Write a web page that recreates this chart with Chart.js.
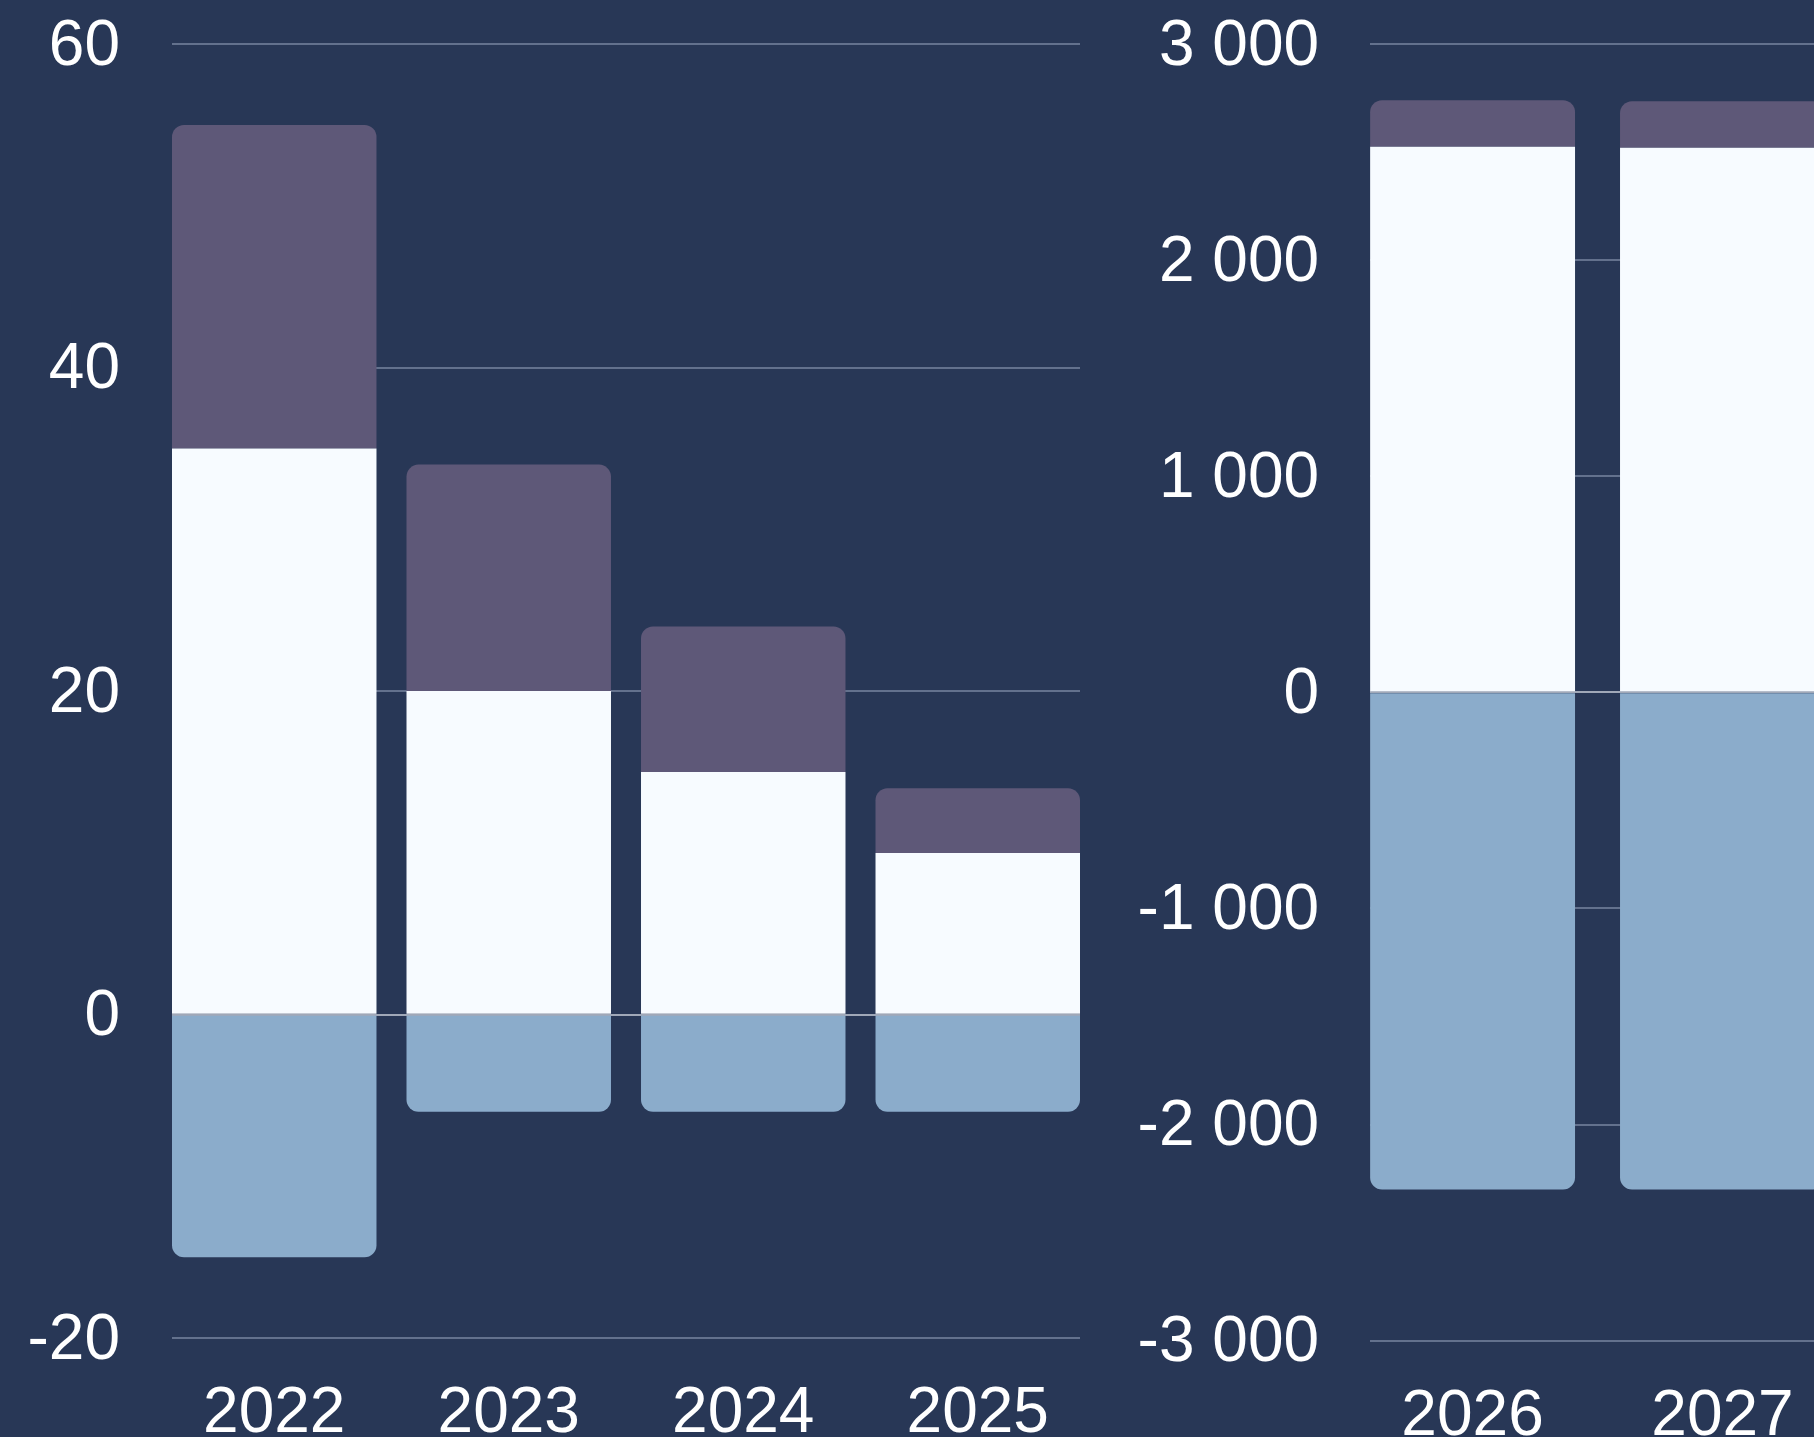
<!DOCTYPE html>
<html>
<head>
<meta charset="utf-8">
<script src="https://cdn.jsdelivr.net/npm/chart.js@4.4.1/dist/chart.umd.min.js"></script>
<style>
    html, body { margin: 0; padding: 0; background: #283756; width: 1814px; height: 1437px; overflow: hidden; }
    #leftBox { position: absolute; left: 0; top: 0; width: 1100px; height: 1500px; }
    #rightBox { position: absolute; left: 1100px; top: 0; width: 740px; height: 1500px; }
</style>
</head>
<body>
<div id="leftBox"><canvas id="leftChart"></canvas></div>
<div id="rightBox"><canvas id="rightChart"></canvas></div>
<script>
// left panel
const leftYears = [2022, 2023, 2024, 2025];
const leftBase = [35, 20, 15, 10];
const leftTop = [20, 14, 9, 4];
const leftNegative = [-15, -6, -6, -6];
const leftTicks = [-20, 0, 20, 40, 60];

// right panel
const rightYears = [2026, 2027];
const rightBase = [2525, 2520];
const rightTop = [215, 215];
const rightNegative = [-2300, -2300];
const rightTicks = [-3000, -2000, -1000, 0, 1000, 2000, 3000];

const WHITE = "#F7FBFF";
const PURPLE = "#5E5878";
const BLUE = "#8BACCB";
const GRID = "#63718D";
const ZERO = "#A0A8B8";
const FONT = { family: "'Liberation Sans', Arial, sans-serif", size: 64 };

document.addEventListener("DOMContentLoaded", () => {
    drawPanel("leftChart", leftYears, leftBase, leftTop, leftNegative, leftTicks, 0.872, 52,
        { left: 27.5, top: 44, right: 20, bottom: 9 });
    drawPanel("rightChart", rightYears, rightBase, rightTop, rightNegative, rightTicks, 0.82, 51,
        { left: 37.6, top: 44, right: 15, bottom: 6.5 });
});

// "3 000" style with a plain space as thousands separator
function formatNumber(value) {
    const digits = Math.abs(value).toString().replace(/\B(?=(\d{3})+(?!\d))/g, " ");
    return (value < 0 ? "-" : "") + digits;
}

function drawPanel(canvasId, years, base, top, negative, ticks, barPct, labelGap, padding) {
    const ctx = document.getElementById(canvasId).getContext("2d");

    new Chart(ctx, {
        type: "bar",
        data: {
            labels: years,
            datasets: [
                { label: "base", data: base, backgroundColor: WHITE },
                { label: "top", data: top, backgroundColor: PURPLE },
                { label: "negative", data: negative, backgroundColor: BLUE }
            ]
        },
        options: {
            animation: false,
            responsive: true,
            maintainAspectRatio: false,
            layout: { padding: padding },
            datasets: {
                bar: {
                    borderRadius: 12,
                    borderSkipped: "start",
                    categoryPercentage: 1,
                    barPercentage: barPct
                }
            },
            plugins: {
                legend: { display: false },
                tooltip: { enabled: false }
            },
            scales: {
                x: {
                    type: "linear",
                    stacked: true,
                    offset: false,
                    min: years[0] - barPct / 2,
                    max: years[years.length - 1] + barPct / 2,
                    afterBuildTicks: axis => {
                        axis.ticks = years.map(v => ({ value: v }));
                    },
                    afterFit: axis => {
                        axis.paddingLeft = 0;
                        axis.paddingRight = 0;
                    },
                    grid: { display: false, drawTicks: false },
                    border: { display: false },
                    ticks: {
                        color: "#FFFFFF",
                        padding: 38,
                        font: FONT,
                        maxRotation: 0,
                        autoSkip: false,
                        callback: value => String(value)
                    }
                },
                y: {
                    stacked: true,
                    min: ticks[0],
                    max: ticks[ticks.length - 1],
                    afterBuildTicks: axis => {
                        axis.ticks = ticks.map(v => ({ value: v }));
                    },
                    // keep only the gap between labels and plot, not the extra outer padding
                    afterFit: axis => {
                        axis.width -= labelGap;
                        axis.paddingTop = 0;
                        axis.paddingBottom = 0;
                    },
                    grid: {
                        color: c => (c.tick && c.tick.value === 0 ? ZERO : GRID),
                        lineWidth: 2,
                        drawTicks: false
                    },
                    border: { display: false },
                    ticks: {
                        color: "#FFFFFF",
                        padding: labelGap,
                        labelOffset: 3,
                        font: FONT,
                        callback: value => formatNumber(value)
                    }
                }
            }
        }
    });
}
</script>
</body>
</html>
